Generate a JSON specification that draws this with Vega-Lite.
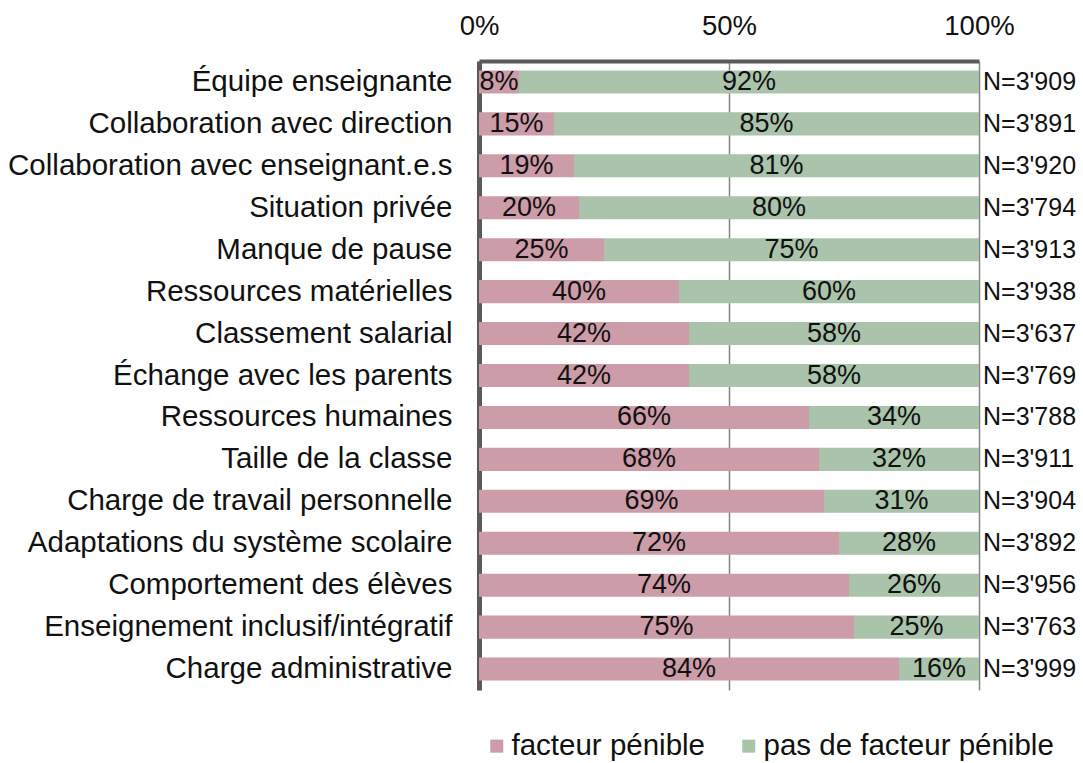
{
  "$schema": "https://vega.github.io/schema/vega-lite/v6.json",
  "autosize": {"type": "none"},
  "padding": {"left": 479, "top": 61, "right": 104, "bottom": 73},
  "width": 500,
  "height": 629,
  "background": "white",
  "config": {
    "view": {"stroke": null},
    "font": "Liberation Sans",
    "text": {"font": "Liberation Sans"}
  },
  "data": {
    "values": [
      {"factor": "Équipe enseignante", "type": "facteur pénible", "pct": 8, "n": "N=3'909"},
      {"factor": "Équipe enseignante", "type": "pas de facteur pénible", "pct": 92, "n": "N=3'909"},
      {"factor": "Collaboration avec direction", "type": "facteur pénible", "pct": 15, "n": "N=3'891"},
      {"factor": "Collaboration avec direction", "type": "pas de facteur pénible", "pct": 85, "n": "N=3'891"},
      {"factor": "Collaboration avec enseignant.e.s", "type": "facteur pénible", "pct": 19, "n": "N=3'920"},
      {"factor": "Collaboration avec enseignant.e.s", "type": "pas de facteur pénible", "pct": 81, "n": "N=3'920"},
      {"factor": "Situation privée ", "type": "facteur pénible", "pct": 20, "n": "N=3'794"},
      {"factor": "Situation privée ", "type": "pas de facteur pénible", "pct": 80, "n": "N=3'794"},
      {"factor": "Manque de pause", "type": "facteur pénible", "pct": 25, "n": "N=3'913"},
      {"factor": "Manque de pause", "type": "pas de facteur pénible", "pct": 75, "n": "N=3'913"},
      {"factor": "Ressources matérielles", "type": "facteur pénible", "pct": 40, "n": "N=3'938"},
      {"factor": "Ressources matérielles", "type": "pas de facteur pénible", "pct": 60, "n": "N=3'938"},
      {"factor": "Classement salarial", "type": "facteur pénible", "pct": 42, "n": "N=3'637"},
      {"factor": "Classement salarial", "type": "pas de facteur pénible", "pct": 58, "n": "N=3'637"},
      {"factor": "Échange avec les parents", "type": "facteur pénible", "pct": 42, "n": "N=3'769"},
      {"factor": "Échange avec les parents", "type": "pas de facteur pénible", "pct": 58, "n": "N=3'769"},
      {"factor": "Ressources humaines", "type": "facteur pénible", "pct": 66, "n": "N=3'788"},
      {"factor": "Ressources humaines", "type": "pas de facteur pénible", "pct": 34, "n": "N=3'788"},
      {"factor": "Taille de la classe", "type": "facteur pénible", "pct": 68, "n": "N=3'911"},
      {"factor": "Taille de la classe", "type": "pas de facteur pénible", "pct": 32, "n": "N=3'911"},
      {"factor": "Charge de travail personnelle", "type": "facteur pénible", "pct": 69, "n": "N=3'904"},
      {"factor": "Charge de travail personnelle", "type": "pas de facteur pénible", "pct": 31, "n": "N=3'904"},
      {"factor": "Adaptations du système scolaire", "type": "facteur pénible", "pct": 72, "n": "N=3'892"},
      {"factor": "Adaptations du système scolaire", "type": "pas de facteur pénible", "pct": 28, "n": "N=3'892"},
      {"factor": "Comportement des élèves ", "type": "facteur pénible", "pct": 74, "n": "N=3'956"},
      {"factor": "Comportement des élèves ", "type": "pas de facteur pénible", "pct": 26, "n": "N=3'956"},
      {"factor": "Enseignement inclusif/intégratif", "type": "facteur pénible", "pct": 75, "n": "N=3'763"},
      {"factor": "Enseignement inclusif/intégratif", "type": "pas de facteur pénible", "pct": 25, "n": "N=3'763"},
      {"factor": "Charge administrative ", "type": "facteur pénible", "pct": 84, "n": "N=3'999"},
      {"factor": "Charge administrative ", "type": "pas de facteur pénible", "pct": 16, "n": "N=3'999"}
    ]
  },
  "encoding": {
    "y": {
      "field": "factor",
      "type": "nominal",
      "sort": ["Équipe enseignante", "Collaboration avec direction", "Collaboration avec enseignant.e.s", "Situation privée ", "Manque de pause", "Ressources matérielles", "Classement salarial", "Échange avec les parents", "Ressources humaines", "Taille de la classe", "Charge de travail personnelle", "Adaptations du système scolaire", "Comportement des élèves ", "Enseignement inclusif/intégratif", "Charge administrative "],
      "scale": {"paddingInner": 0.45, "paddingOuter": 0.225},
      "axis": {
        "title": null,
        "ticks": false,
        "domain": true,
        "domainColor": "#5a5a5a",
        "domainWidth": 5,
        "labelFontSize": 29.5,
        "labelFont": "Liberation Sans",
        "labelColor": "#111111",
        "labelPadding": 27,
        "labelLimit": 600,
        "grid": false
      }
    }
  },
  "layer": [
    {
      "mark": {"type": "bar"},
      "encoding": {
        "x": {
          "field": "pct",
          "type": "quantitative",
          "stack": "zero",
          "scale": {"domain": [0, 100], "nice": false},
          "axis": {
            "orient": "top",
            "title": null,
            "values": [0, 50, 100],
            "labelExpr": "datum.value + '%'",
            "labelFlush": false,
            "labelFontSize": 27.5,
            "labelFont": "Liberation Sans",
            "labelColor": "#111111",
            "labelPadding": 21,
            "ticks": false,
            "grid": true,
            "gridColor": "#858585",
            "gridWidth": 1.5,
            "domain": true,
            "domainColor": "#5a5a5a",
            "domainWidth": 4
          }
        },
        "color": {
          "field": "type",
          "type": "nominal",
          "scale": {"domain": ["facteur pénible", "pas de facteur pénible"], "range": ["#cc9ca8", "#a9c4aa"]},
          "legend": {
            "orient": "none",
            "legendX": 3,
            "legendY": 670,
            "direction": "horizontal",
            "title": null,
            "symbolType": "square",
            "symbolSize": 170,
            "symbolStrokeWidth": 0,
            "labelFontSize": 29.5,
            "labelFont": "Liberation Sans",
            "labelColor": "#111111",
            "labelOffset": 0,
            "columnPadding": 28,
            "labelLimit": 400
          }
        }
      }
    },
    {
      "transform": [
        {"stack": "pct", "groupby": ["factor"], "sort": [{"field": "type", "order": "ascending"}], "as": ["s0", "s1"]},
        {"calculate": "(datum.s0 + datum.s1) / 2", "as": "mid"},
        {"calculate": "datum.pct + '%'", "as": "lab"}
      ],
      "mark": {"type": "text", "fontSize": 27, "font": "Liberation Sans", "color": "#111111", "baseline": "middle", "align": "center"},
      "encoding": {
        "x": {"field": "mid", "type": "quantitative"},
        "text": {"field": "lab"}
      }
    },
    {
      "transform": [{"filter": "datum.type === 'facteur pénible'"}],
      "mark": {"type": "text", "fontSize": 25, "font": "Liberation Sans", "color": "#111111", "baseline": "middle", "align": "left", "dx": 4},
      "encoding": {
        "x": {"datum": 100, "type": "quantitative"},
        "text": {"field": "n"}
      }
    }
  ]
}
